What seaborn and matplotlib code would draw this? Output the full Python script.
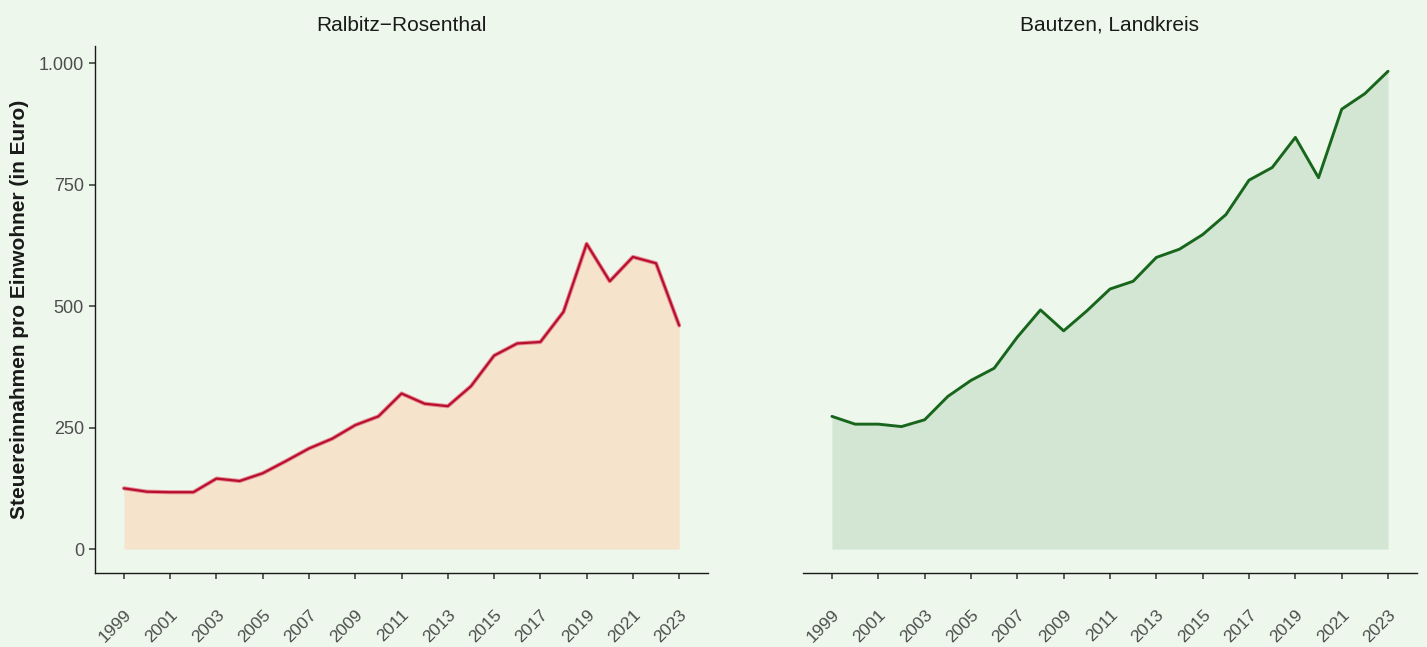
import matplotlib
matplotlib.use("Agg")
import matplotlib.pyplot as plt
import seaborn as sns
import pandas as pd
import numpy as np

years = list(range(1999, 2024))
ralbitz = [125, 118, 117, 117, 145, 140, 156, 181, 207, 227, 255, 273, 320, 299, 294,
           335, 398, 423, 426, 488, 628, 551, 601, 588, 460]
bautzen = [273, 257, 257, 252, 266, 314, 347, 372, 436, 492, 449, 490, 535, 551, 600,
           617, 647, 688, 759, 785, 847, 764, 905, 937, 983]
titles = ["Ralbitz\u2212Rosenthal", "Bautzen, Landkreis"]
xticks = list(range(1999, 2024, 2))
yticks = [0, 250, 500, 750, 1000]
ytick_labels = ["0", "250", "500", "750", "1.000"]
ylabel = "Steuereinnahmen pro Einwohner (in Euro)"

bg = "#EDF7EC"
fills = ["#F5E3CB", "#D3E5D3"]
lines = ["#B8102C", "#17661C"]
halos = ["#E58C98", "#17661C"]

sns.set_theme(style="ticks")
plt.rcParams['font.family'] = ['Liberation Sans', 'DejaVu Sans']

fig = plt.figure(figsize=(14.27, 6.47), dpi=100, facecolor=bg)
ax1 = fig.add_axes([0.0666, 0.1144, 0.4296, 0.8145])
ax2 = fig.add_axes([0.5627, 0.1144, 0.4303, 0.8145])

for i, (ax, vals) in enumerate(zip([ax1, ax2], [ralbitz, bautzen])):
    df = pd.DataFrame({"Jahr": years, "Wert": vals})
    ax.set_facecolor(bg)
    ax.fill_between(df["Jahr"], 0, df["Wert"], color=fills[i], linewidth=0, zorder=1)
    if i == 0:
        sns.lineplot(data=df, x="Jahr", y="Wert", ax=ax, color=halos[i], linewidth=3.0, zorder=2)
        sns.lineplot(data=df, x="Jahr", y="Wert", ax=ax, color=lines[i], linewidth=1.6, zorder=3)
    else:
        sns.lineplot(data=df, x="Jahr", y="Wert", ax=ax, color=lines[i], linewidth=2.1, zorder=3)
    ax.set_xlim(1997.75, 2024.25)
    ax.set_ylim(-49.2, 1035)
    ax.set_xticks(xticks)
    ax.set_xticklabels([str(y) for y in xticks], rotation=45, ha="right", rotation_mode="anchor")
    ax.set_yticks(yticks)
    ax.set_yticklabels(ytick_labels)
    ax.tick_params(axis="both", colors="#333333", labelcolor="#4D4D4D", labelsize=13,
                   length=4.5, width=1.1, direction="out")
    ax.tick_params(axis="x", pad=20, labelsize=12.5)
    ax.set_xlabel("")
    ax.set_ylabel("")
    ax.set_title(titles[i], fontsize=15, color="#1A1A1A", pad=11)
    for s in ["top", "right"]:
        ax.spines[s].set_visible(False)
    ax.spines["bottom"].set_color("#1A1A1A")
    ax.spines["left"].set_color("#1A1A1A")
    ax.spines["bottom"].set_linewidth(1.0)
    ax.spines["left"].set_linewidth(1.0)

ax1.set_ylabel(ylabel, fontsize=15, fontweight="bold", color="#1A1A1A", labelpad=7)
ax2.spines["left"].set_visible(False)
ax2.tick_params(axis="y", left=False, labelleft=False)

fig.savefig("out.png", dpi=100, facecolor=bg)
